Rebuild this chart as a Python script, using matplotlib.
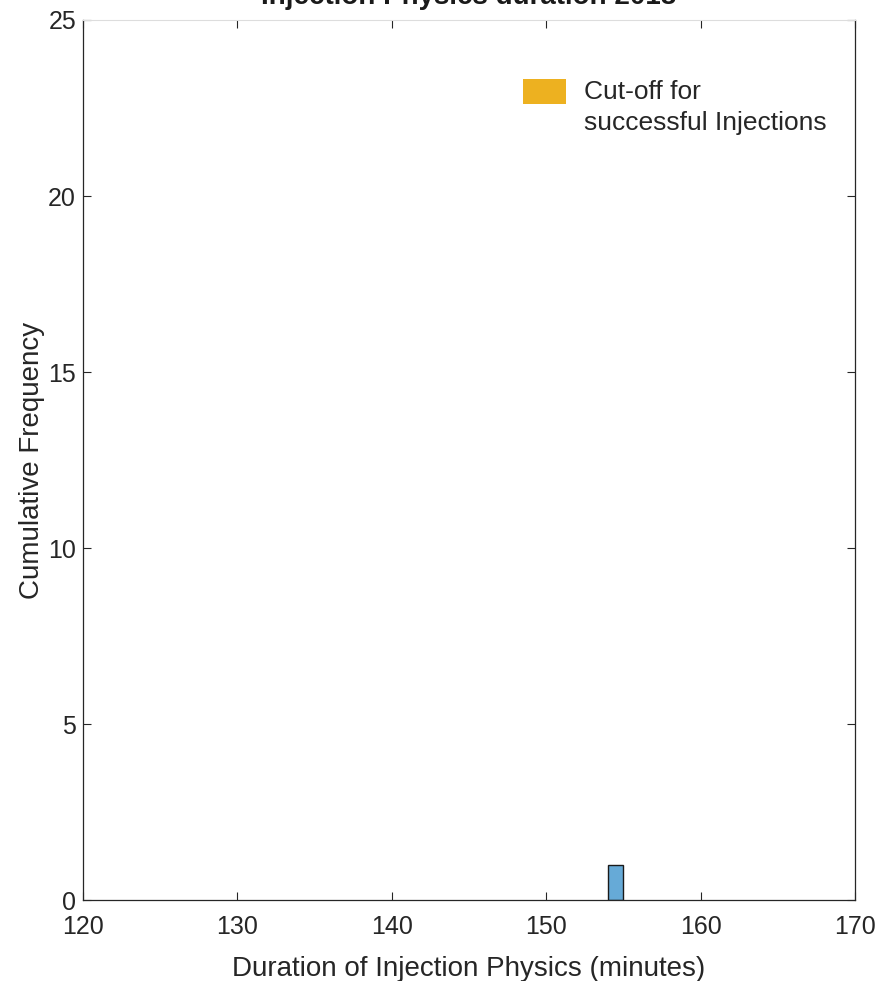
import matplotlib.pyplot as plt
from matplotlib.patches import Rectangle

plt.rcParams['font.family'] = ['Liberation Sans', 'DejaVu Sans']

# histogram of injection physics durations (minutes)
bin_edges = [154, 155]
counts = [1]
cutoff_label = 'Cut-off for\nsuccessful Injections'

fig = plt.figure(figsize=(8.81, 9.81), dpi=100)
ax = fig.add_axes([83 / 881, 81 / 981, 772 / 881, 880 / 981])

ax.bar(bin_edges[:-1], counts, width=bin_edges[1] - bin_edges[0], align='edge',
       color='#66aad7', edgecolor='#1a1a1a', linewidth=1.0)

ax.set_xlim(120, 170)
ax.set_ylim(0, 25)
ax.set_xticks(range(120, 171, 10))
ax.set_yticks(range(0, 26, 5))
ax.tick_params(direction='in', top=True, right=True, length=6, width=0.8,
               color='#262626', labelsize=18, labelcolor='#262626')
ax.tick_params(axis='x', pad=11)
ax.tick_params(axis='y', pad=5)
for side in ['left', 'bottom', 'right']:
    ax.spines[side].set_color('#262626')
    ax.spines[side].set_linewidth(0.9)
ax.spines['top'].set_color('#dddddd')

ax.set_xlabel('Duration of Injection Physics (minutes)', fontsize=20, color='#262626', labelpad=12)
ax.set_ylabel('Cumulative Frequency', fontsize=20, color='#262626', labelpad=2.5)

fig.text(0.5 + 0.5 * (83 + 855 - 881) / 881, 1 - 4 / 981, 'Injection Physics duration 2018',
         ha='center', va='baseline', fontsize=20, fontweight='bold', color='#1a1a1a')

# legend entry for the cut-off, swatch aligned with the first text line
ax.add_patch(Rectangle((0.570, 0.9045), 0.0557, 0.0284, transform=ax.transAxes,
                       facecolor='#edb120', edgecolor='none', clip_on=False))
ax.text(0.649, 0.875, cutoff_label, transform=ax.transAxes, ha='left', va='baseline',
        fontsize=19, color='#262626', linespacing=1.37)

plt.savefig('out.png', dpi=100)
